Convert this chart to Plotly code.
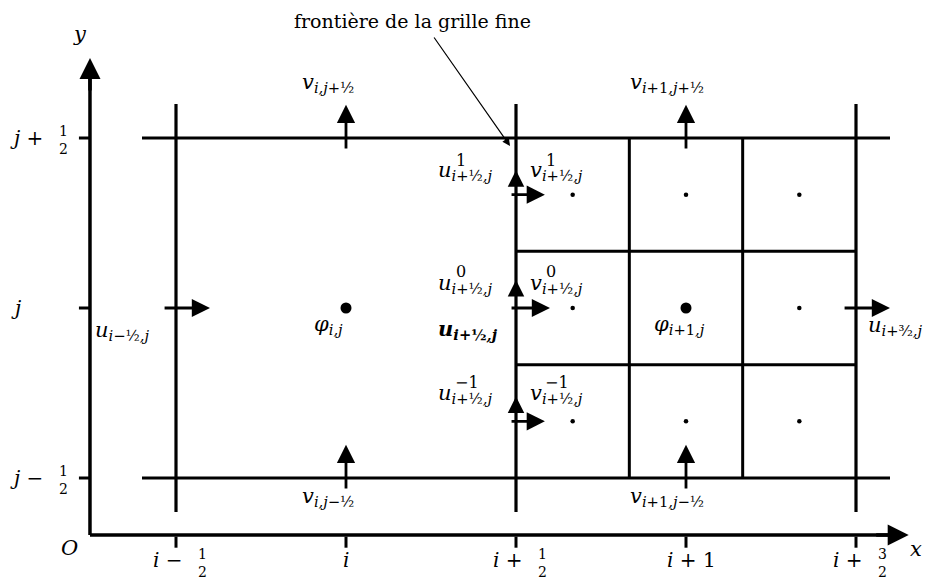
import plotly.graph_objects as go

# Logical grid: x in half-cells (i -> 0, i+1/2 -> 1, ...), y in half-cells (j -> 0)
x_ticks = [-1, 0, 1, 2, 3]
y_ticks = [-1, 0, 1]
coarse_x = [-1, 1, 3]          # i-1/2, i+1/2, i+3/2
coarse_y = [-1, 1]             # j-1/2, j+1/2
fine_x = [1 + 2/3, 1 + 4/3]
fine_y = [-1/3, 1/3]
fine_cx = [1 + 1/3, 2, 2 + 2/3]
fine_cy = [-2/3, 0, 2/3]
big_dots_x = [0, 2]
big_dots_y = [0, 0]

# axis extents
O = (-1.506, -1.335)
x_end = 3.31
y_end = 1.47

FONT = "DejaVu Serif"
BLACK = "black"

fig = go.Figure()

def seg_trace(xs, ys, w):
    fig.add_trace(go.Scatter(x=xs, y=ys, mode="lines", line=dict(color=BLACK, width=w),
                             hoverinfo="skip", showlegend=False))

# coarse horizontal lines
xs, ys = [], []
for yv in coarse_y:
    xs += [-1.2, 3.2, None]; ys += [yv, yv, None]
seg_trace(xs, ys, 3)
# coarse vertical lines
xs, ys = [], []
for xv in coarse_x:
    xs += [xv, xv, None]; ys += [-1.2, 1.2, None]
seg_trace(xs, ys, 3.2)
# fine lines
xs, ys = [], []
for xv in fine_x:
    xs += [xv, xv, None]; ys += [-1, 1, None]
for yv in fine_y:
    xs += [1, 3, None]; ys += [yv, yv, None]
seg_trace(xs, ys, 3)
# axis ticks
xs, ys = [], []
for xv in x_ticks:
    xs += [xv, xv, None]; ys += [O[1] - 0.01, O[1] - 0.075, None]
for yv in y_ticks:
    xs += [O[0] - 0.065, O[0], None]; ys += [yv, yv, None]
seg_trace(xs, ys, 3)
# axes
seg_trace([O[0], x_end - 0.05, None, O[0], O[0]], [O[1], O[1], None, O[1], y_end - 0.05], 3.5)

# small dots at fine cell centers (except the centre which is a big dot)
sx, sy = [], []
for cx in fine_cx:
    for cy in fine_cy:
        if not (cx == 2 and cy == 0):
            sx.append(cx); sy.append(cy)
fig.add_trace(go.Scatter(x=sx, y=sy, mode="markers", marker=dict(color=BLACK, size=4.5),
                         hoverinfo="skip", showlegend=False))
fig.add_trace(go.Scatter(x=big_dots_x, y=big_dots_y, mode="markers", marker=dict(color=BLACK, size=11),
                         hoverinfo="skip", showlegend=False))

annotations = []

def arrow(x0, y0, x1, y1, w=2.8, size=1.3, head=2):
    annotations.append(dict(x=x1, y=y1, ax=x0, ay=y0, xref="x", yref="y", axref="x", ayref="y",
                            text="", showarrow=True, arrowhead=head, arrowsize=size,
                            arrowwidth=w, arrowcolor=BLACK, standoff=0, startstandoff=0))

# axis arrowheads
arrow(x_end - 0.2, O[1], x_end, O[1], w=3.5, size=1.2)
arrow(O[0], y_end - 0.2, O[0], y_end, w=3.5, size=1.2)
# v arrows
for xv in [0, 2]:
    arrow(xv, 1 - 0.07, xv, 1.195)
    arrow(xv, -1 - 0.07, xv, -0.805)
# u arrows at coarse faces
arrow(-1.076, 0, -0.80, 0)
arrow(2.924, 0, 3.20, 0)
arrow(0.965, 0, 1.20, 0)
# u arrows at fine faces
for yv in [2/3, -2/3]:
    arrow(0.965, yv, 1.17, yv)
# small arrowheads on the interface line
for yv in [0.81, 0.165, -0.52]:
    arrow(1, yv - 0.1, 1, yv, w=3, size=1.1)
# pointer from the caption
arrow(0.512, 1.60, 0.965, 0.953, w=1.2, size=1.3)

def label(x, y, text, size=21, xanchor="left", yanchor="middle"):
    annotations.append(dict(x=x, y=y, xref="x", yref="y", text=text, showarrow=False,
                            xanchor=xanchor, yanchor=yanchor,
                            font=dict(family=FONT, size=size, color=BLACK)))

# stacked fraction
def frac(x, y, num, den, size=14):
    annotations.append(dict(x=x, y=y, xref="x", yref="y", text=f"{num}<br>{den}", showarrow=False,
                            xanchor="center", yanchor="middle", align="center",
                            font=dict(family=FONT, size=size, color=BLACK)))

# caption and axis names
label(0.394, 1.688, "frontière de la grille fine", size=19, xanchor="center")
label(-1.565, 1.612, "<i>y</i>", size=21, xanchor="center")
label(3.353, -1.418, "<i>x</i>", size=21, xanchor="center")
label(-1.624, -1.412, "<i>O</i>", size=21, xanchor="center")

# x tick labels (centre y ~ 560 px)
xl_y = -1.482
fr_y = -1.50
label(-1 + 0.055, xl_y, "<i>i</i> −", size=20, xanchor="right")
frac(-1 + 0.153, fr_y, "1", "2")
label(0, xl_y, "<i>i</i>", size=20, xanchor="center")
label(1 + 0.055, xl_y, "<i>i</i> +", size=20, xanchor="right")
frac(1 + 0.153, fr_y, "1", "2")
label(2 + 0.03, xl_y, "<i>i</i> + 1", size=20, xanchor="center")
label(3 + 0.055, xl_y, "<i>i</i> +", size=20, xanchor="right")
frac(3 + 0.153, fr_y, "3", "2")

# y tick labels
label(-1.77, 1.0, "<i>j</i> +", size=20, xanchor="right")
frac(-1.66, 1.0 - 0.01, "1", "2")
label(-1.94, 0.0, "<i>j</i>", size=20, xanchor="center")
label(-1.77, -1.0, "<i>j</i> −", size=20, xanchor="right")
frac(-1.66, -1.0 - 0.01, "1", "2")

# variable labels
label(-0.27, 1.324, "<i>v</i><sub><i>i,j</i>+½</sub>")
label(1.66, 1.324, "<i>v</i><sub><i>i</i>+1<i>,j</i>+½</sub>")
label(-0.27, -1.112, "<i>v</i><sub><i>i,j</i>−½</sub>")
label(1.66, -1.112, "<i>v</i><sub><i>i</i>+1<i>,j</i>−½</sub>")
label(-1.488, -0.135, "<i>u</i><sub><i>i</i>−½<i>,j</i></sub>")
label(3.059, -0.106, "<i>u</i><sub><i>i</i>+³⁄₂<i>,j</i></sub>")
label(-0.20, -0.10, "<i>φ</i><sub><i>i,j</i></sub>")
label(1.80, -0.10, "<i>φ</i><sub><i>i</i>+1<i>,j</i></sub>")

levels = [(0.806, 0.87, "1", 0.0), (0.141, 0.215, "0", 0.0), (-0.506, -0.44, "−1", 0.035)]
for yv, ys_, sup, dx in levels:
    label(0.53, yv, "<i>u</i><sub><i>i</i>+½<i>,j</i></sub>")
    label(0.675 + dx, ys_, sup, size=16, xanchor="center")
    label(1.07, yv, "<i>v</i><sub><i>i</i>+½<i>,j</i></sub>")
    label(1.205 + dx, ys_, sup, size=16, xanchor="center")
label(0.53, -0.129, "<b><i>u</i><sub><i>i</i>+½<i>,j</i></sub></b>")

fig.update_layout(
    width=930, height=576,
    margin=dict(l=0, r=0, t=0, b=0),
    paper_bgcolor="white", plot_bgcolor="white",
    xaxis=dict(range=[(8 - 346) / 170, (938 - 346) / 170], visible=False, fixedrange=True),
    yaxis=dict(range=[(308 - 584) / 170, (308 - 8) / 170], visible=False, fixedrange=True),
    annotations=annotations,
    showlegend=False,
)

fig.write_html("out.html")
